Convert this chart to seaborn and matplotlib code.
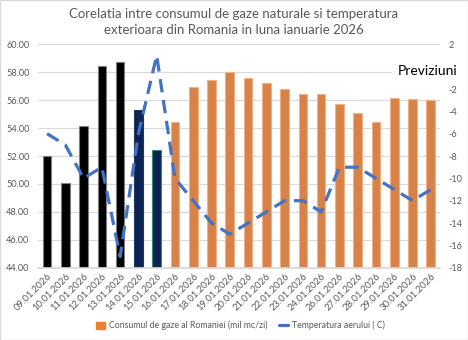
import numpy as np
import pandas as pd
import matplotlib
matplotlib.use("Agg")
import matplotlib.pyplot as plt
import seaborn as sns
from matplotlib.patches import Patch
from matplotlib.lines import Line2D

dates = ["09.01.2026", "10.01.2026", "11.01.2026", "12.01.2026", "13.01.2026",
         "14.01.2026", "15.01.2026", "16.01.2026", "17.01.2026", "18.01.2026",
         "19.01.2026", "20.01.2026", "21.01.2026", "22.01.2026", "23.01.2026",
         "24.01.2026", "26.01.2026", "27.01.2026", "28.01.2026", "29.01.2026",
         "30.01.2026", "31.01.2026"]
consum = [52.0, 50.05, 54.13, 58.43, 58.76, 55.3, 52.41, 54.42, 56.92, 57.47,
          58.02, 57.61, 57.23, 56.82, 56.42, 56.42, 55.75, 55.08, 54.41, 56.13,
          56.08, 56.01]
temp = [-6, -7, -10, -9, -17, -6, 1, -10, -12, -14, -15, -14, -13, -12, -12,
        -13, -9, -9, -10, -11, -12, -11]
bar_colors = ["#000000"] * 5 + ["#002060"] * 2 + ["#ED7D31"] * 15
edge_colors = ["#7F7F7F"] * 5 + ["#1F3864", "#2E8B6F"] + ["#F4B183"] * 15

title = "Corelatia intre consumul de gaze naturale si temperatura\nexterioara din Romania in luna ianuarie 2026"
label_bar = "Consumul de gaze al Romaniei (mil mc/zi)"
label_line = "Temperatura aerului ( C)"

sns.set_theme(style="white")
plt.rcParams["font.family"] = ["Lato", "DejaVu Sans"]

grey = "#595959"
fig = plt.figure(figsize=(4.68, 3.40), dpi=100)
ax = fig.add_axes([0.081, 0.2126, 0.859, 0.657])

df = pd.DataFrame({"date": dates, "consum": consum})
sns.barplot(data=df, x="date", y="consum", hue="date", palette=bar_colors,
            legend=False, width=0.47, ax=ax, zorder=2)
for p, ec in zip(ax.patches, edge_colors):
    p.set_edgecolor(ec)
    p.set_linewidth(0.8)

ax.set_ylim(44, 60)
ax.set_yticks(np.arange(44, 60.1, 2))
ax.set_yticklabels([f"{v:.2f}" for v in np.arange(44, 60.1, 2)])
ax.yaxis.grid(True, color="#D9D9D9", linewidth=0.8, zorder=0)
ax.set_axisbelow(True)
ax.set_xlabel("")
ax.set_ylabel("")
ax.set_xlim(-0.5, len(dates) - 0.5)
ax.tick_params(axis="y", labelsize=6.6, colors=grey, length=0, pad=6)
ax.tick_params(axis="x", labelsize=6.9, colors=grey, length=0, pad=3)
plt.setp(ax.get_xticklabels(), rotation=45, ha="right", rotation_mode="anchor")
for s in ax.spines.values():
    s.set_visible(False)
ax.spines["bottom"].set_visible(True)
ax.spines["bottom"].set_color("#D9D9D9")

ax2 = ax.twinx()
ldf = pd.DataFrame({"x": np.arange(len(dates)), "temp": temp})
sns.lineplot(data=ldf, x="x", y="temp", ax=ax2, color="#4472C4",
             linewidth=2.3, zorder=5)
ax2.lines[0].set_dashes((4.2, 2.4))
ax2.set_ylim(-18, 2)
rticks = np.arange(-18, 2.1, 2)
ax2.set_yticks(rticks)
ax2.set_yticklabels(["" if v == 0 else f"{int(v)}" for v in rticks])
ax2.set_ylabel("")
ax2.set_xlabel("")
ax2.tick_params(axis="y", labelsize=6.6, colors=grey, length=0, pad=6)
for s in ax2.spines.values():
    s.set_visible(False)
ax2.set_xlim(-0.5, len(dates) - 0.5)

fig.text(0.5, 0.975, title, ha="center", va="top", fontsize=9.5,
         color=grey, linespacing=1.3)

fig.text(0.978, 0.79, "Previziuni", ha="right", va="center", fontsize=10,
         color="black", zorder=10,
         bbox=dict(facecolor="white", edgecolor="none", pad=4.5))

handles = [Patch(facecolor="#ED7D31", edgecolor="#ED7D31"),
           Line2D([0], [0], color="#4472C4", linewidth=2.3)]
fig.legend(handles, [label_bar, label_line], loc="center",
           bbox_to_anchor=(0.513, 0.042), ncol=2, frameon=False, fontsize=6.3,
           labelcolor=grey, handlelength=1.1, handleheight=1.0,
           columnspacing=1.3, handletextpad=0.4)

fig.patches.append(plt.Rectangle((0, 0), 1, 1, transform=fig.transFigure,
                                 fill=False, edgecolor="#D9D9D9", linewidth=1))
fig.savefig("out.png", dpi=100, facecolor="white")
